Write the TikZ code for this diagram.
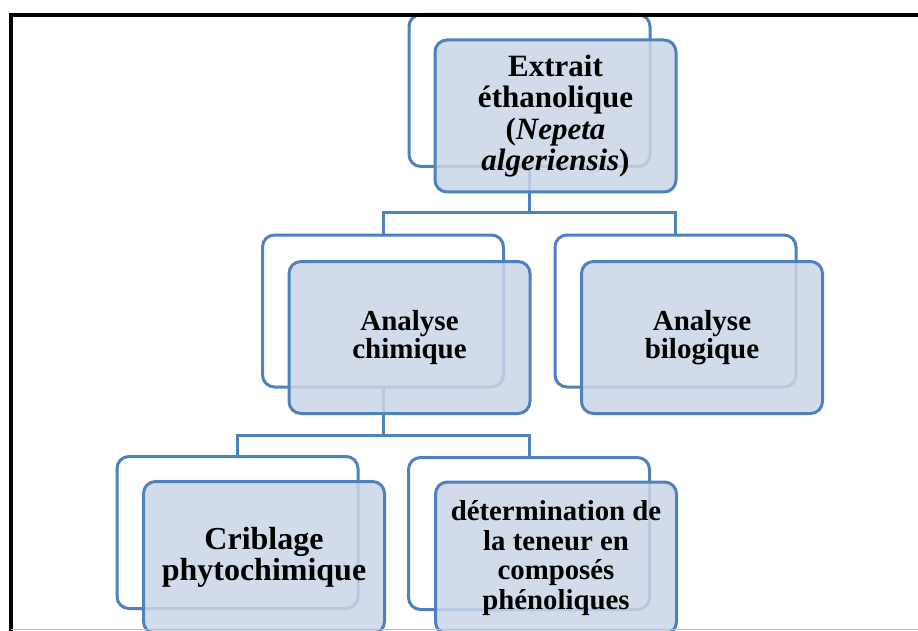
\documentclass[tikz,border=0pt]{standalone}
\usepackage{fontspec}
\setmainfont{Liberation Serif}
\definecolor{sablue}{RGB}{79,129,189}
\definecolor{frontfill}{RGB}{203,213,230}
\tikzset{
  backbox/.style={draw=sablue, line width=3pt, rounded corners=12pt, fill=white,
    minimum width=241pt, minimum height=152pt, inner sep=0pt},
  frontbox/.style={draw=sablue, line width=3pt, rounded corners=12pt, fill=frontfill,
    fill opacity=0.85, text opacity=1, minimum width=241pt, minimum height=152pt,
    inner sep=0pt, align=center, font=\bfseries\fontsize{31}{31.5}\selectfont},
  midtext/.style={font=\bfseries\fontsize{29}{28.5}\selectfont},
  bigtext/.style={font=\bfseries\fontsize{32}{31.5}\selectfont},
  dettext/.style={font=\bfseries\fontsize{28.8}{29.5}\selectfont},
  conn/.style={draw=sablue, line width=3pt},
}
\begin{document}
\begin{tikzpicture}[x=1pt,y=-1pt]
\useasboundingbox (0,0) rectangle (918,631);
\clip (0,0) rectangle (918,631);
\fill[white] (0,0) rectangle (918,631);
% back boxes
\node[backbox] (eb) at (529.5,90.5) {};
\node[backbox] (acb) at (383,311) {};
\node[backbox] (abb) at (675.5,311) {};
\node[backbox] (cpb) at (237.5,532.5) {};
\node[backbox] (dtb) at (529,533.5) {};
% junction coordinates
\coordinate (j1) at (529.5,213);
\coordinate (j2) at (383,435);
% connectors
\draw[conn] (eb.south) -- (eb.south |- j1) -| (acb.north);
\draw[conn] (eb.south |- j1) -| (abb.north);
\draw[conn] (acb.south) -- (acb.south |- j2) -| (cpb.north);
\draw[conn] (acb.south |- j2) -| (dtb.north);
% front boxes
\node[frontbox] (e) at (555.5,116) {Extrait\\éthanolique\\(\textit{Nepeta}\\\textit{algeriensis})};
\node[frontbox, midtext] (ac) at (409.5,337.5) {Analyse\\chimique};
\node[frontbox, midtext] (ab) at (702,337.5) {Analyse\\bilogique};
\node[frontbox, bigtext] (cp) at (264,557.5) {Criblage\\phytochimique};
\node[frontbox, dettext] (dt) at (556,558) {détermination de\\la teneur en\\composés\\phénoliques};
% frame
\draw[black, line width=3.5pt] (11,640) -- (11,15) -- (930,15);
\draw[black!25, line width=1.5pt] (11,629.5) -- (918,629.5);
\end{tikzpicture}
\end{document}
